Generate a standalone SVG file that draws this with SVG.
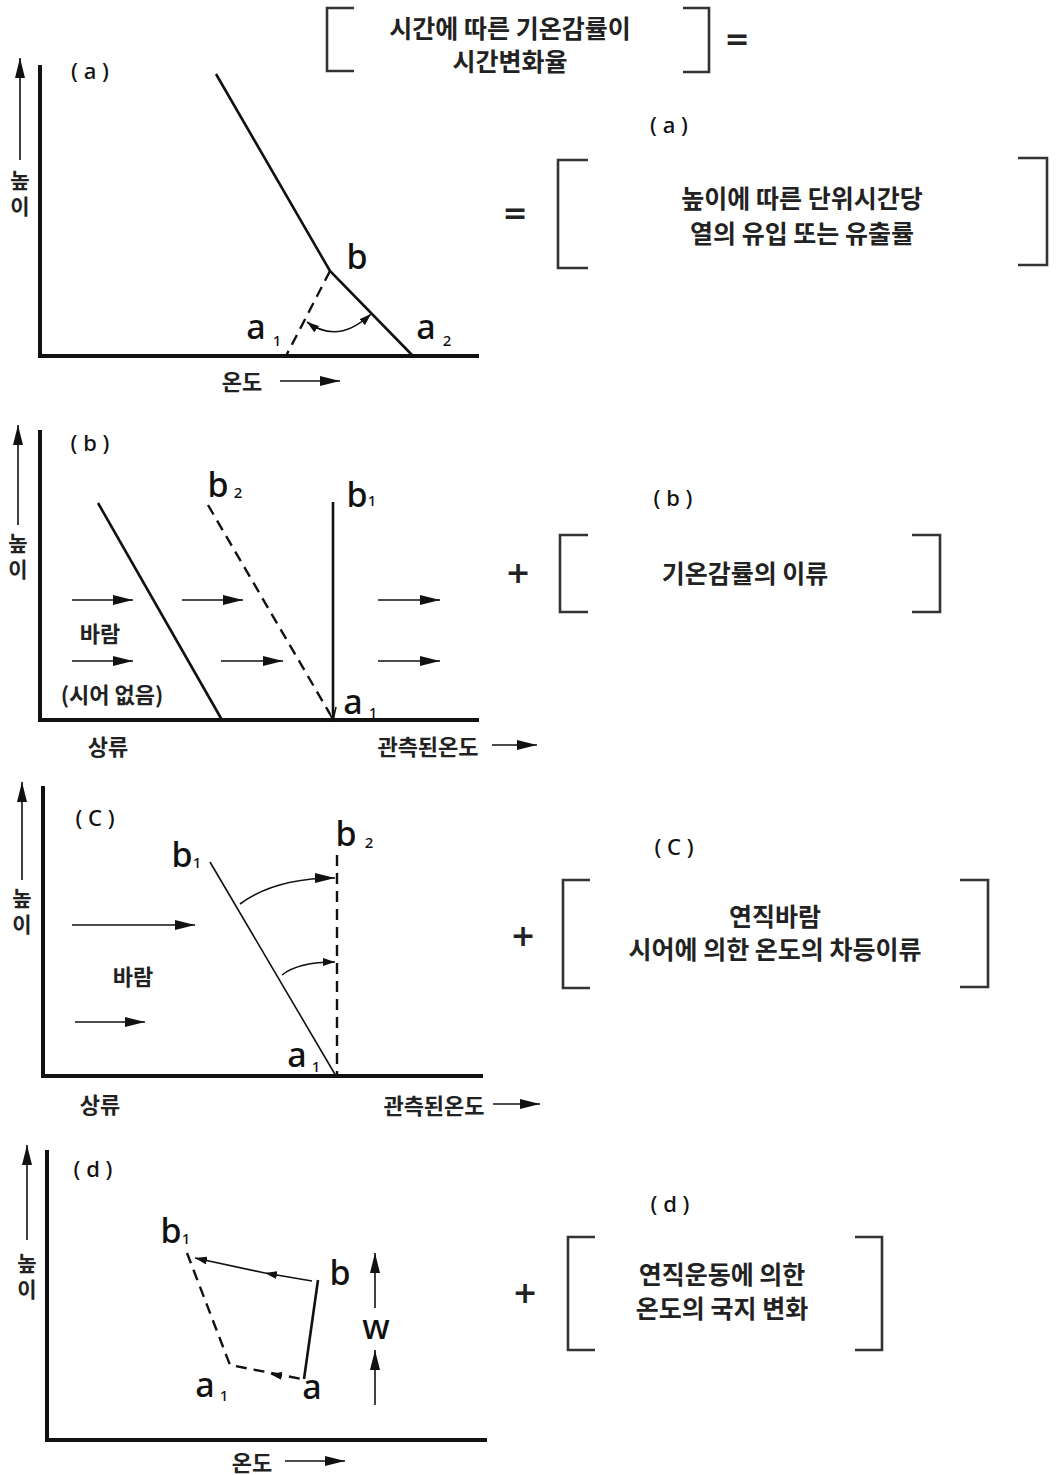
<svg xmlns="http://www.w3.org/2000/svg" width="1058" height="1475" viewBox="0 0 1058 1475">
<style>
.kr{font-family:"Noto Sans CJK KR","Noto Sans",sans-serif;fill:#222;dominant-baseline:central;text-anchor:middle}
.box{font-size:25px;font-weight:700}
.ax{font-size:22px;font-weight:700}
.vt{font-family:"Noto Sans CJK KR","Noto Sans",sans-serif;fill:#222;font-size:21px;font-weight:700;writing-mode:vertical-rl;text-orientation:upright;letter-spacing:5px;text-anchor:middle}
.lat{font-family:"Noto Sans","Open Sans",sans-serif;fill:#111;dominant-baseline:central;text-anchor:middle;font-weight:500}
.big{font-size:34px}
.sub{font-size:15px}
.plab{font-size:22px}
.op{font-family:"DejaVu Sans",sans-serif;font-size:30px;font-weight:bold;fill:#222;text-anchor:middle;dominant-baseline:central}
.axis{stroke:#111;stroke-width:4;fill:none}
.thick{stroke:#111;stroke-width:2.6;fill:none}
.thin{stroke:#111;stroke-width:1.6;fill:none}
.dash{stroke:#111;stroke-width:2.4;fill:none;stroke-dasharray:11 7}
.br{stroke:#333;stroke-width:2.6;fill:none}
</style>
<defs>
<marker id="ah" viewBox="0 0 20 10" refX="20" refY="5" markerWidth="20" markerHeight="10" markerUnits="userSpaceOnUse" orient="auto"><path d="M0,0 L20,5 L0,10 z" fill="#111"/></marker>
<marker id="ahs" viewBox="0 0 12 8" refX="12" refY="4" markerWidth="12" markerHeight="8" markerUnits="userSpaceOnUse" orient="auto-start-reverse"><path d="M0,0 L12,4 L0,8 z" fill="#111"/></marker>
</defs>

<!-- top equation box -->
<g id="box-top">
<path class="br" d="M354,8 H327 V71 H354"/>
<path class="br" d="M683,8 H709 V72 H683"/>
<text class="kr box" x="510" y="27">시간에 따른 기온감률이</text>
<text class="kr box" x="510" y="60">시간변화율</text>
<text class="op" x="737" y="38">=</text>
</g>

<!-- panel a -->
<g id="panel-a">
<path class="axis" d="M40,65 V356 H479"/>
<text class="lat plab" x="90" y="70">( a )</text>
<text class="vt" x="20" y="196">높이</text>
<path class="thick" d="M216,74 L330,271 L413,356"/>
<path class="dash" d="M330,271 L286,356"/>
<text class="lat big" x="357" y="256">b</text>
<text class="lat big" x="256" y="326">a</text>
<text class="lat sub" x="277" y="340">1</text>
<text class="lat big" x="426" y="326">a</text>
<text class="lat sub" x="447" y="340">2</text>
<text class="kr ax" x="242" y="380">온도</text>
</g>

<g id="box-a">
<text class="lat plab" x="669" y="124">( a )</text>
<text class="op" x="515" y="212">=</text>
<path class="br" d="M588,160 H558 V268 H588"/>
<path class="br" d="M1018,158 H1047 V265 H1018"/>
<text class="kr box" x="802" y="197">높이에 따른 단위시간당</text>
<text class="kr box" x="802" y="232">열의 유입 또는 유출률</text>
</g>

<!-- panel b -->
<g id="panel-b">
<path class="axis" d="M40,430 V720 H479"/>
<text class="lat plab" x="90" y="442">( b )</text>
<text class="vt" x="18" y="559">높이</text>
<path class="thick" d="M98,503 L222,720"/>
<path class="thick" d="M333,502 V720"/>
<text class="lat big" x="218" y="484">b</text>
<text class="lat sub" x="238" y="492">2</text>
<text class="lat big" x="357" y="494">b</text>
<text class="lat sub" x="372" y="500">1</text>
<text class="lat big" x="353" y="701">a</text>
<text class="lat sub" x="373" y="712">1</text>
<text class="kr ax" x="100" y="632">바람</text>
<text class="kr ax" x="112" y="693">(시어 없음)</text>
<text class="kr ax" x="108" y="745">상류</text>
<text class="kr ax" x="428" y="745">관측된온도</text>
<text class="op" x="518" y="572">+</text>
</g>

<g id="box-b">
<text class="lat plab" x="673" y="497">( b )</text>
<path class="br" d="M588,535 H560 V612 H588"/>
<path class="br" d="M912,535 H940 V612 H912"/>
<text class="kr box" x="745" y="572">기온감률의 이류</text>
</g>

<!-- panel c -->
<g id="panel-c">
<path class="axis" d="M43,786 V1076 H483"/>
<text class="lat plab" x="95" y="817">( C )</text>
<text class="vt" x="22" y="914">높이</text>
<path class="thin" d="M210,862 L336,1076"/>
<path class="dash" d="M337,855 V1076"/>
<text class="lat big" x="182" y="854">b</text>
<text class="lat sub" x="197" y="862">1</text>
<text class="lat big" x="346" y="833">b</text>
<text class="lat sub" x="369" y="842">2</text>
<text class="lat big" x="297" y="1054">a</text>
<text class="lat sub" x="316" y="1066">1</text>
<text class="kr ax" x="133" y="975">바람</text>
<text class="kr ax" x="100" y="1103">상류</text>
<text class="kr ax" x="434" y="1104">관측된온도</text>
<text class="op" x="523" y="935">+</text>
</g>

<g id="box-c">
<text class="lat plab" x="674" y="846">( C )</text>
<path class="br" d="M590,880 H563 V988 H590"/>
<path class="br" d="M960,880 H988 V987 H960"/>
<text class="kr box" x="775" y="915">연직바람</text>
<text class="kr box" x="775" y="948">시어에 의한 온도의 차등이류</text>
</g>

<!-- panel d -->
<g id="panel-d">
<path class="axis" d="M47,1150 V1440 H487"/>
<text class="lat plab" x="93" y="1168">( d )</text>
<text class="vt" x="27" y="1279">높이</text>
<path class="thick" d="M318,1280 L304,1379"/>
<path class="dash" d="M187,1253 L230,1365 L302,1379"/>
<text class="lat big" x="171" y="1230">b</text>
<text class="lat sub" x="186" y="1238">1</text>
<text class="lat big" x="340" y="1272">b</text>
<text class="lat big" x="312" y="1386">a</text>
<text class="lat big" x="205" y="1384">a</text>
<text class="lat sub" x="224" y="1395">1</text>
<text class="lat big" x="376" y="1326">w</text>
<text class="kr ax" x="252" y="1461">온도</text>
<text class="op" x="525" y="1292">+</text>
</g>

<g id="box-d">
<text class="lat plab" x="670" y="1203">( d )</text>
<path class="br" d="M595,1237 H568 V1350 H595"/>
<path class="br" d="M855,1237 H882 V1350 H855"/>
<text class="kr box" x="722" y="1273">연직운동에 의한</text>
<text class="kr box" x="722" y="1307">온도의 국지 변화</text>
</g>

<!-- connectors / arrows -->
<g id="connectors">
<line class="thin" x1="20" y1="160" x2="20" y2="58" marker-end="url(#ah)"/>
<line class="thin" x1="280" y1="381" x2="340" y2="381" marker-end="url(#ah)"/>
<line class="thin" x1="18" y1="525" x2="18" y2="425" marker-end="url(#ah)"/>
<line class="thin" x1="492" y1="745" x2="537" y2="745" marker-end="url(#ah)"/>
<line class="thin" x1="22" y1="880" x2="22" y2="782" marker-end="url(#ah)"/>
<line class="thin" x1="493" y1="1104" x2="540" y2="1104" marker-end="url(#ah)"/>
<line class="thin" x1="27" y1="1240" x2="27" y2="1145" marker-end="url(#ah)"/>
<line class="thin" x1="285" y1="1461" x2="345" y2="1461" marker-end="url(#ah)"/>
<path class="thin" d="M307,322 Q338,345 371,314" marker-start="url(#ahs)" marker-end="url(#ahs)"/>
<path class="dash" d="M208,505 L330,714"/>
<path d="M327,709 L333,720 L336,707" stroke="#111" stroke-width="1.6" fill="none"/>
<line class="thin" x1="72" y1="600" x2="133" y2="600" marker-end="url(#ah)"/>
<line class="thin" x1="182" y1="600" x2="243" y2="600" marker-end="url(#ah)"/>
<line class="thin" x1="378" y1="600" x2="440" y2="600" marker-end="url(#ah)"/>
<line class="thin" x1="72" y1="661" x2="133" y2="661" marker-end="url(#ah)"/>
<line class="thin" x1="221" y1="661" x2="283" y2="661" marker-end="url(#ah)"/>
<line class="thin" x1="378" y1="661" x2="440" y2="661" marker-end="url(#ah)"/>
<line class="thin" x1="72" y1="925" x2="195" y2="925" marker-end="url(#ah)"/>
<line class="thin" x1="75" y1="1022" x2="145" y2="1022" marker-end="url(#ah)"/>
<path class="thin" d="M240,904 Q275,878 335,878" marker-end="url(#ah)"/>
<path class="thin" d="M282,975 Q298,962 335,962" marker-end="url(#ahs)"/>
<line class="thin" x1="312" y1="1281" x2="265" y2="1273" marker-end="url(#ahs)"/>
<line class="thin" x1="265" y1="1273" x2="195" y2="1258" marker-end="url(#ahs)"/>
<line x1="302" y1="1379" x2="270" y2="1374" stroke="none" marker-end="url(#ahs)"/>
<line class="thin" x1="375" y1="1308" x2="375" y2="1253" marker-end="url(#ah)"/>
<line class="thin" x1="375" y1="1405" x2="375" y2="1350" marker-end="url(#ah)"/>
</g>
</svg>
